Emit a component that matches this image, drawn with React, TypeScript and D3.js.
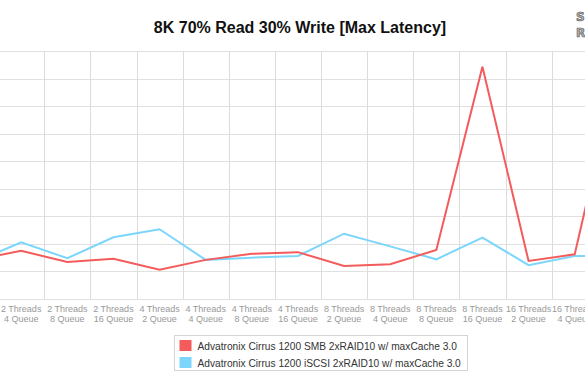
import React, { useEffect, useRef } from 'react';
import * as d3 from 'd3';

const categories = [
    '2 Threads|2 Queue', '2 Threads|4 Queue', '2 Threads|8 Queue', '2 Threads|16 Queue',
    '4 Threads|2 Queue', '4 Threads|4 Queue', '4 Threads|8 Queue', '4 Threads|16 Queue',
    '8 Threads|2 Queue', '8 Threads|4 Queue', '8 Threads|8 Queue', '8 Threads|16 Queue',
    '16 Threads|2 Queue', '16 Threads|4 Queue', '16 Threads|8 Queue', '16 Threads|16 Queue',
];

const smbValues = [142, 175, 134, 146, 106, 142, 164, 170, 120, 126, 178, 843, 138, 162, 886, 178];
const iscsiValues = [134, 206, 148, 224, 253, 142, 150, 156, 237, 191, 144, 223, 123, 156, 156, 152];

const yTicks = [0, 100, 200, 300, 400, 500, 600, 700, 800, 900];

const seriesNames = [
    'Advatronix Cirrus 1200 SMB 2xRAID10 w/ maxCache 3.0',
    'Advatronix Cirrus 1200 iSCSI 2xRAID10 w/ maxCache 3.0',
];
const seriesColors = ['#f45b5b', '#7cd6fb'];

const App: React.FC = () => {
    const svgRef = useRef<SVGSVGElement>(null);

    useEffect(() => {
        d3.select(svgRef.current).selectAll('*').remove();

        const width = 585;
        const height = 390;
        // plot area is wider than the picture, it runs off both edges
        const plot = { left: -48, right: 690, top: 51, bottom: 299 };

        const svg = d3.select(svgRef.current)
            .attr('width', width)
            .attr('height', height)
            .style('background', '#ffffff');

        const x = d3.scaleBand()
            .domain(categories)
            .range([plot.left, plot.right]);

        const y = d3.scaleLinear()
            .domain([0, 900])
            .range([plot.bottom, plot.top]);

        // Horizontal grid
        svg.append('g')
            .selectAll('line')
            .data(yTicks)
            .enter()
            .append('line')
            .attr('x1', plot.left)
            .attr('x2', plot.right)
            .attr('y1', d => Math.round(y(d)) + 0.5)
            .attr('y2', d => Math.round(y(d)) + 0.5)
            .attr('stroke', '#e0e0e0');

        // Vertical grid at band edges
        svg.append('g')
            .selectAll('line')
            .data(categories)
            .enter()
            .append('line')
            .attr('x1', d => Math.round(x(d) || 0) + 0.5)
            .attr('x2', d => Math.round(x(d) || 0) + 0.5)
            .attr('y1', plot.top)
            .attr('y2', plot.bottom)
            .attr('stroke', '#dcdcdc');

        // X labels
        const xl = svg.append('g')
            .selectAll('text')
            .data(categories)
            .enter()
            .append('text')
            .attr('text-anchor', 'middle')
            .attr('transform', d => `translate(${(x(d) || 0) + x.bandwidth() / 2},311.5)`)
            .style('font', '9px "Liberation Sans", Arial, sans-serif')
            .style('fill', '#999');
        xl.append('tspan').attr('x', 0).attr('dy', 0).text(d => d.split('|')[0]);
        xl.append('tspan').attr('x', 0).attr('dy', 10.8).text(d => d.split('|')[1]);

        // Lines
        const line = d3.line<number>()
            .x((_, i) => (x(categories[i]) || 0) + x.bandwidth() / 2)
            .y(d => y(d));

        [iscsiValues, smbValues].forEach((vals, k) => {
            const color = k === 0 ? seriesColors[1] : seriesColors[0];
            svg.append('path')
                .datum(vals)
                .attr('d', line)
                .attr('fill', 'none')
                .attr('stroke', color)
                .attr('stroke-width', 2)
                .attr('stroke-linejoin', 'miter');
        });

        // Title
        svg.append('text')
            .attr('x', 300)
            .attr('y', 32.5)
            .attr('text-anchor', 'middle')
            .style('font', 'bold 16px "Liberation Sans", Arial, sans-serif')
            .style('fill', '#111')
            .text('8K 70% Read 30% Write [Max Latency]');

        // Logo bits at the top right
        const logo = svg.append('g')
            .style('font', 'bold 12px "DejaVu Sans", sans-serif')
            .style('fill', '#b0b0b0')
            .style('stroke', '#666')
            .style('stroke-width', 0.7);
        logo.append('text').attr('x', 576).attr('y', 21).text('S');
        logo.append('text').attr('x', 576).attr('y', 37).text('R');

        // Legend
        const legendW = 293;
        const legendH = 35;
        const legendX = (plot.left + plot.right) / 2 - legendW / 2;
        const legendY = 335.5;
        const lg = svg.append('g').attr('transform', `translate(${legendX},${legendY})`);
        lg.append('rect')
            .attr('width', legendW)
            .attr('height', legendH)
            .attr('fill', '#fff')
            .attr('stroke', '#d4d4d4');
        const items = lg.selectAll('g.item')
            .data(seriesNames)
            .enter()
            .append('g')
            .attr('transform', (_, i) => `translate(5,${4.5 + i * 17})`);
        items.append('rect')
            .attr('width', 12)
            .attr('height', 11)
            .attr('fill', (_, i) => seriesColors[i]);
        items.append('text')
            .attr('x', 18)
            .attr('y', 9.5)
            .style('font', '10.2px "Liberation Sans", Arial, sans-serif')
            .style('fill', '#333')
            .text(d => d);
    }, []);

    return <svg ref={svgRef} style={{ position: 'absolute', left: 0, top: 0 }}></svg>;
};

export default App;
